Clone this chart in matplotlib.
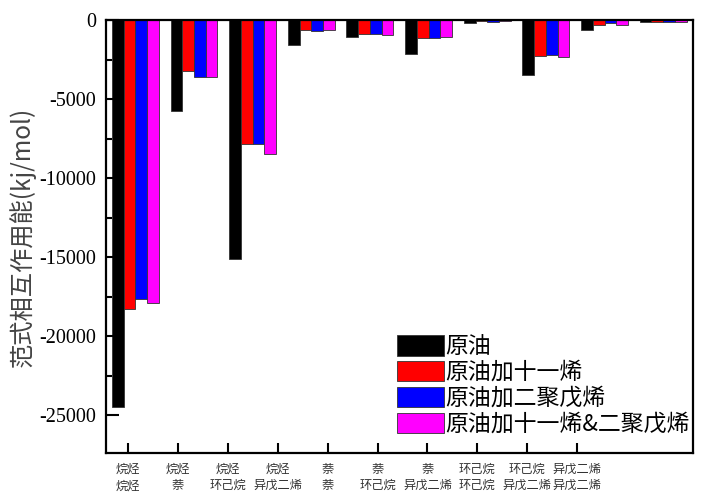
import numpy as np
import matplotlib
matplotlib.use("Agg")
import matplotlib.pyplot as plt
from matplotlib.ticker import MultipleLocator

plt.rcParams['font.family'] = ['Liberation Serif', 'Noto Sans CJK SC']

categories = ["烷烃\n烷烃", "烷烃\n萘", "烷烃\n环己烷", "烷烃\n异戊二烯", "萘\n萘",
              "萘\n环己烷", "萘\n异戊二烯", "环己烷\n环己烷", "环己烷\n异戊二烯", "异戊二烯\n异戊二烯"]
series_names = ["原油", "原油加十一烯", "原油加二聚戊烯", "原油加十一烯&二聚戊烯"]
crude = [-24500, -5760, -15150, -1560, -1050, -2150, -190, -3460, -610, -120]
crude_c11 = [-18300, -3210, -7850, -630, -880, -1160, -60, -2260, -300, -140]
crude_dcpd = [-17650, -3590, -7850, -700, -900, -1160, -130, -2190, -210, -140]
crude_both = [-17900, -3590, -8480, -630, -920, -1100, -60, -2360, -300, -150]
colors = ["#000000", "#ff0000", "#0000ff", "#ff00ff"]

# Origin put the category ticks on its own spacing, not under the bar groups
tick_pos = np.linspace(-0.12, 7.53, len(categories))

fig = plt.figure(figsize=(7.04, 4.93), dpi=100)
ax = fig.add_axes([0.1506, 0.0811, 0.8331, 0.8783])

x = np.arange(len(categories))
w = 0.2
for i, (vals, name, c) in enumerate(zip([crude, crude_c11, crude_dcpd, crude_both], series_names, colors)):
    ax.bar(x + (i - 1.5) * w, vals, width=w, color=c, edgecolor="#333333", linewidth=0.6, label=name)

ax.set_xlim(-0.5, 9.5)
ax.set_ylim(-27400, 0)
ax.yaxis.set_major_locator(MultipleLocator(5000))
ax.yaxis.set_minor_locator(MultipleLocator(2500))
ax.set_yticks([0, -5000, -10000, -15000, -20000, -25000])
ax.set_yticklabels(["0", "-5000", "-10000", "-15000", "-20000", "-25000"], fontsize=14.5)
ax.set_xticks(tick_pos)
ax.set_xticklabels(categories, fontsize=8.8, family="Noto Sans CJK SC", color="#333333",
                   linespacing=1.35)
ax.tick_params(axis="y", which="major", direction="in", length=9, width=1.5, pad=7)
ax.tick_params(axis="y", which="minor", direction="in", length=4, width=1.5)
ax.tick_params(axis="x", which="major", direction="in", length=7, width=1.5, pad=7)
for s in ax.spines.values():
    s.set_linewidth(1.6)

ax.set_ylabel("范式相互作用能(kj/mol)", fontsize=17.5, family=["Noto Sans CJK SC"], color="#444444",
              labelpad=3)

ax.legend(loc="lower left", bbox_to_anchor=(0.496, 0.04), frameon=False,
          prop={"family": "Noto Sans CJK SC", "size": 16.5}, handlelength=2.05, handleheight=1.0,
          handletextpad=0.05, labelspacing=0.12, borderpad=0, borderaxespad=0)

fig.savefig("out.png", dpi=100)
